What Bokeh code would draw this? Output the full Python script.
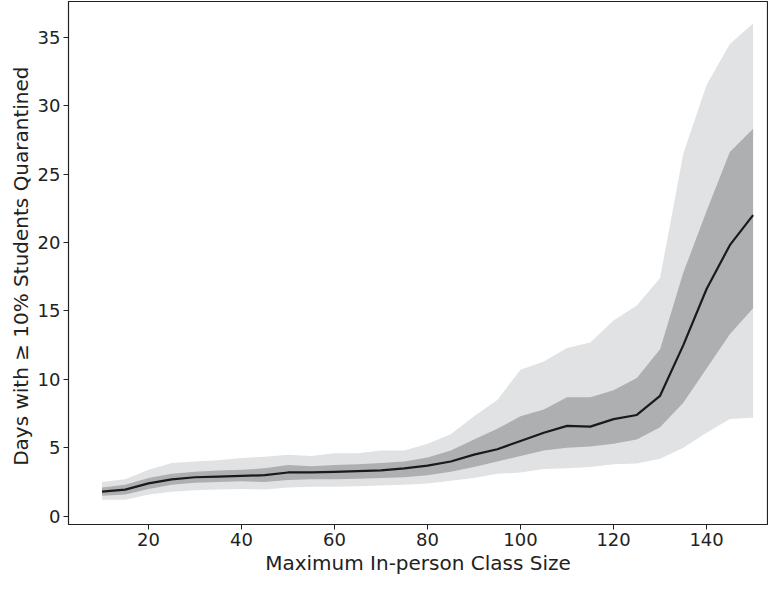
from bokeh.plotting import figure
from bokeh.models import Range1d, FixedTicker
from bokeh.embed import file_html
from bokeh.resources import INLINE

class_size = [10, 15, 20, 25, 30, 35, 40, 45, 50, 55, 60, 65, 70, 75, 80, 85, 90, 95,
              100, 105, 110, 115, 120, 125, 130, 135, 140, 145, 150]
median = [1.8, 1.95, 2.4, 2.7, 2.85, 2.9, 2.95, 3.0, 3.2, 3.2, 3.25, 3.3, 3.35, 3.5, 3.7,
          4.0, 4.5, 4.9, 5.5, 6.1, 6.6, 6.55, 7.1, 7.4, 8.8, 12.5, 16.6, 19.8, 22.0]
inner_hi = [2.1, 2.3, 2.8, 3.1, 3.25, 3.35, 3.4, 3.5, 3.75, 3.65, 3.75, 3.8, 3.9, 4.0, 4.3,
            4.8, 5.6, 6.4, 7.3, 7.8, 8.7, 8.7, 9.2, 10.1, 12.2, 17.8, 22.3, 26.6, 28.3]
inner_lo = [1.5, 1.6, 2.0, 2.3, 2.45, 2.5, 2.55, 2.5, 2.65, 2.7, 2.7, 2.75, 2.8, 2.85, 3.0,
            3.25, 3.6, 4.0, 4.4, 4.8, 5.0, 5.1, 5.3, 5.6, 6.5, 8.3, 10.8, 13.3, 15.2]
outer_hi = [2.5, 2.7, 3.4, 3.9, 4.0, 4.1, 4.25, 4.35, 4.5, 4.4, 4.6, 4.6, 4.8, 4.8, 5.3,
            6.0, 7.3, 8.5, 10.7, 11.3, 12.3, 12.7, 14.3, 15.4, 17.4, 26.5, 31.5, 34.5, 36.0]
outer_lo = [1.2, 1.2, 1.6, 1.8, 1.9, 1.95, 2.0, 1.95, 2.1, 2.15, 2.15, 2.2, 2.25, 2.3, 2.4,
            2.6, 2.8, 3.1, 3.2, 3.45, 3.5, 3.6, 3.8, 3.85, 4.2, 5.0, 6.1, 7.1, 7.2]

x_ticks = [20, 40, 60, 80, 100, 120, 140]
y_ticks = [0, 5, 10, 15, 20, 25, 30, 35]

p = figure(width=768, height=577, output_backend="svg", toolbar_location=None,
           x_range=Range1d(2.8, 153.1), y_range=Range1d(-0.6, 37.6),
           min_border_left=68, min_border_right=1, min_border_top=1, min_border_bottom=44)

p.varea(x=class_size, y1=outer_lo, y2=outer_hi, fill_color="#e1e2e4", fill_alpha=1.0)
p.varea(x=class_size, y1=inner_lo, y2=inner_hi, fill_color="#aeafb1", fill_alpha=1.0)
p.line(x=class_size, y=median, line_color="#1a1a1a", line_width=2.2)

p.xgrid.visible = False
p.ygrid.visible = False
p.outline_line_color = "#222222"
p.outline_line_width = 1.2
p.background_fill_color = "white"
p.border_fill_color = "white"

p.xaxis.ticker = FixedTicker(ticks=x_ticks)
p.yaxis.ticker = FixedTicker(ticks=y_ticks)
for ax in (p.xaxis[0], p.yaxis[0]):
    ax.major_label_text_font = "DejaVu Sans"
    ax.major_label_text_font_size = "18px"
    ax.major_label_text_color = "#222222"
    ax.axis_label_text_font = "DejaVu Sans"
    ax.axis_label_text_font_size = "20px"
    ax.axis_label_text_font_style = "normal"
    ax.axis_label_text_color = "#222222"
    ax.axis_line_color = "#222222"
    ax.major_tick_line_color = "#222222"
    ax.major_tick_out = 5
    ax.major_tick_in = 0
    ax.minor_tick_line_color = None
    ax.major_label_standoff = 3
    ax.axis_label_standoff = 2

p.xaxis.axis_label = "Maximum In-person Class Size"
p.yaxis.axis_label = "Days with  \u2265 10% Students Quarantined"

open("out.html", "w").write(file_html(p, INLINE))
